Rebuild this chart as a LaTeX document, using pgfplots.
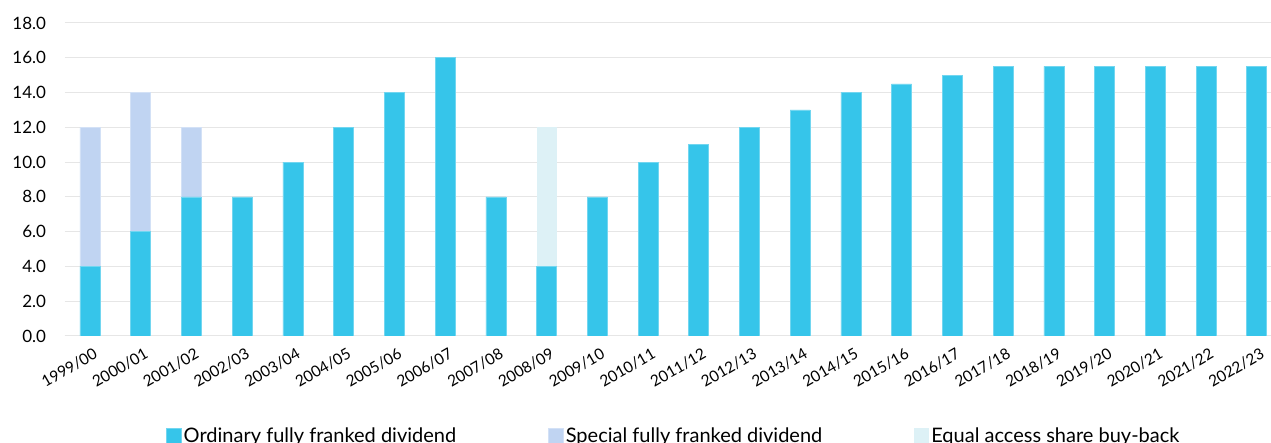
\documentclass[border=0pt]{standalone}
\usepackage{pgfplots}
\pgfplotsset{compat=1.18}
\usepackage{fontspec}
\setmainfont{Lato}

\definecolor{ordcol}{HTML}{36C5EA}
\definecolor{specol}{HTML}{C0D4F2}
\definecolor{buycol}{HTML}{DDF1F6}
\definecolor{gridcol}{HTML}{E6E6E6}

\begin{document}
\begin{tikzpicture}[x=1pt,y=1pt]
  \useasboundingbox (-64.6,-107) rectangle (1206.4,336);
  \begin{axis}[
      at={(0,0)}, anchor=south west,
      scale only axis,
      width=1206.4pt, height=313pt,
      ybar stacked,
      bar width=20pt,
      xmin=-0.5, xmax=23.28,
      ymin=0, ymax=18,
      ytick={0,2,...,18},
      /pgf/number format/fixed,
      /pgf/number format/fixed zerofill,
      /pgf/number format/precision=1,
      /pgf/number format/assume math mode=true,
      yticklabel style={font=\fontsize{17}{20}\selectfont, xshift=-15pt},
      xtick={0,...,23},
      xticklabels={1999/00,2000/01,2001/02,2002/03,2003/04,2004/05,2005/06,2006/07,2007/08,2008/09,2009/10,2010/11,2011/12,2012/13,2013/14,2014/15,2015/16,2016/17,2017/18,2018/19,2019/20,2020/21,2021/22,2022/23},
      xticklabel style={font=\fontsize{15.5}{17}\selectfont, rotate=30, anchor=north east, inner sep=1pt, yshift=-10pt, xshift=-2pt},
      major tick length=0pt,
      ymajorgrids,
      grid style={gridcol, line width=1pt},
      axis x line*=bottom,
      axis y line*=left,
      y axis line style={draw=none},
      x axis line style={gridcol, line width=1pt, -},
      legend columns=3,
      legend style={at={(0.505,-0.318)}, anchor=center, draw=none,
        font=\fontsize{20}{22}\selectfont,
        /tikz/every even column/.append style={column sep=90pt}},
      legend image code/.code={\fill[#1] (0pt,-7.5pt) rectangle (15pt,7.5pt);},
    ]
    \addplot[fill=ordcol, draw=ordcol!70!white, line width=0.6pt] coordinates {
      (0,4) (1,6) (2,8) (3,8) (4,10) (5,12) (6,14) (7,16) (8,8) (9,4)
      (10,8) (11,10) (12,11) (13,12) (14,13) (15,14) (16,14.5) (17,15)
      (18,15.5) (19,15.5) (20,15.5) (21,15.5) (22,15.5) (23,15.5)};
    \addplot[fill=specol, draw=specol!70!white, line width=0.6pt] coordinates {
      (0,8) (1,8) (2,4) (3,0) (4,0) (5,0) (6,0) (7,0) (8,0) (9,0)
      (10,0) (11,0) (12,0) (13,0) (14,0) (15,0) (16,0) (17,0)
      (18,0) (19,0) (20,0) (21,0) (22,0) (23,0)};
    \addplot[fill=buycol, draw=none] coordinates {
      (0,0) (1,0) (2,0) (3,0) (4,0) (5,0) (6,0) (7,0) (8,0) (9,8)
      (10,0) (11,0) (12,0) (13,0) (14,0) (15,0) (16,0) (17,0)
      (18,0) (19,0) (20,0) (21,0) (22,0) (23,0)};
    \legend{Ordinary fully franked dividend, Special fully franked dividend, Equal access share buy-back}
  \end{axis}
\end{tikzpicture}
\end{document}
